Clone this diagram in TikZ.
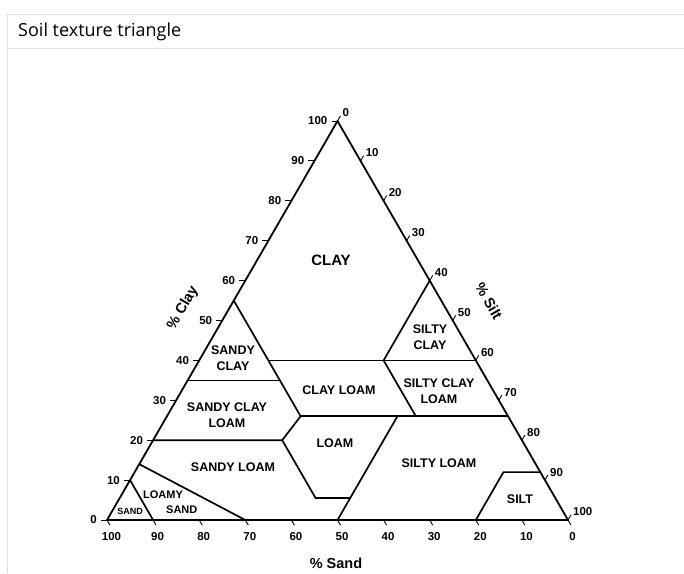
\documentclass[tikz,border=0pt]{standalone}
\usepackage{fontspec}
\setmainfont{Liberation Sans}
\newfontfamily\titlefont{Open Sans}
\usetikzlibrary{calc}
\tikzset{
  edge/.style={line width=1.8pt, line join=round},
  bnd/.style={line width=1.7pt, line join=round},
  tck/.style={line width=0.9pt},
  zone/.style={font=\bfseries\fontsize{12.5}{15.5}\selectfont, align=center, inner sep=0pt},
  num/.style={font=\bfseries\fontsize{11.5}{13}\selectfont, inner sep=0pt},
  axl/.style={font=\bfseries\fontsize{14.5}{16}\selectfont, inner sep=0pt},
}
% point of the triangle from its sand and clay percentages
\newcommand{\tpt}[3]{\coordinate (#1) at ({107+4.61*(100-(#2)-(#3)/2)}, {520-3.99*(#3)});}

\begin{document}
\begin{tikzpicture}[x=1pt, y=-1pt]
  \useasboundingbox (0,0) rectangle (684,573);
  % ---------- panel ----------
  \draw[black!12, line width=0.8pt] (7,573) -- (7,14) -- (684,14);
  \draw[black!12, line width=0.8pt] (7,48) -- (684,48);
  \node[anchor=west, inner sep=0pt, font=\titlefont\fontsize{18}{20}\selectfont] (ttl) at (18,32) {Soil texture triangle};
  % ---------- corners and boundary points (sand, clay) ----------
  \tpt{sa}{100}{0} \tpt{si}{0}{0} \tpt{cl}{0}{100}
  \tpt{c55}{45}{55} \tpt{c40a}{45}{40} \tpt{c40b}{20}{40} \tpt{c40r}{0}{40}
  \tpt{c60r}{0}{60}
  \tpt{c35l}{65}{35} \tpt{c35}{45}{35}
  \tpt{c26a}{45}{26} \tpt{c26b}{24}{26} \tpt{c26c}{20}{26} \tpt{c26r}{0}{26}
  \tpt{c20l}{80}{20} \tpt{c20}{52}{20}
  \tpt{c5a}{52}{5.5} \tpt{c5b}{44.5}{5.5} \tpt{s50}{50}{0}
  \tpt{ls1}{86}{14} \tpt{ls2}{70}{0}
  \tpt{sd1}{90}{10} \tpt{sd2}{90}{0}
  \tpt{st1}{20}{0} \tpt{st2}{8}{12} \tpt{st3}{0}{12}
  % ---------- outline and class boundaries ----------
  \draw[edge] (sa) -- (si) -- (cl) -- cycle;
  \draw[bnd] (c40a) -- (c40r);
  \draw[bnd] (c55) -- (c26a);
  \draw[bnd] (c60r) -- (c40b) -- (c26c);
  \draw[bnd] (c35l) -- (c35);
  \draw[bnd] (c26a) -- (c26r);
  \draw[bnd] (c20l) -- (c20) -- (c26a);
  \draw[bnd] (c20) -- (c5a) -- (c5b);
  \draw[bnd] (c26b) -- (s50);
  \draw[bnd] (ls1) -- (ls2);
  \draw[bnd] (sd1) -- (sd2);
  \draw[bnd] (st1) -- (st2) -- (st3);
  % ---------- ticks ----------
  \foreach \v in {0,10,...,100} {
    \tpt{lt\v}{100-\v}{\v}
    \tpt{rt\v}{0}{100-\v}
    \tpt{bt\v}{\v}{0}
    \draw[tck] (lt\v) -- ++(-6,0);
    \draw[tck] (rt\v) -- ++(3,-5.2);
    \draw[tck] (bt\v) -- ++(3,5.2);
    \node[num, anchor=east] (ln\v) at ($(lt\v)+(-10,0)$) {\v};
    \node[num, anchor=west] (rn\v) at ($(rt\v)+(5,-8)$) {\v};
    \node[num] (bn\v) at ($(bt\v)+(4.5,17)$) {\v};
  }
  % ---------- axis titles ----------
  \node[axl, rotate=60] (tclay) at (183,308) {\% Clay};
  \node[axl, rotate=-60] (tsilt) at (489,301) {\% Silt};
  \node[axl] (tsand) at (336,563) {\% Sand};
  % ---------- classes ----------
  \node[zone, font=\bfseries\fontsize{15}{17}\selectfont] (nclay) at (331,260) {CLAY};
  \node[zone] (nsc) at (233,358) {SANDY\\CLAY};
  \node[zone] (nsic) at (430,337) {SILTY\\CLAY};
  \node[zone] (ncl) at (339,390) {CLAY LOAM};
  \node[zone] (nsicl) at (439,391) {SILTY CLAY\\LOAM};
  \node[zone] (nscl) at (227,415) {SANDY CLAY\\LOAM};
  \node[zone] (nl) at (335,443) {LOAM};
  \node[zone] (nsil) at (439,463) {SILTY LOAM};
  \node[zone] (nsl) at (233,467) {SANDY LOAM};
  \node[zone, font=\bfseries\fontsize{11}{14.5}\selectfont, align=left, anchor=west] (nls) at (143,502) {LOAMY\\\hspace*{23pt}SAND};
  \node[zone, font=\bfseries\fontsize{9}{10}\selectfont] (nsd) at (130,511) {SAND};
  \node[zone] (nsilt) at (520,499) {SILT};
\end{tikzpicture}
\end{document}
